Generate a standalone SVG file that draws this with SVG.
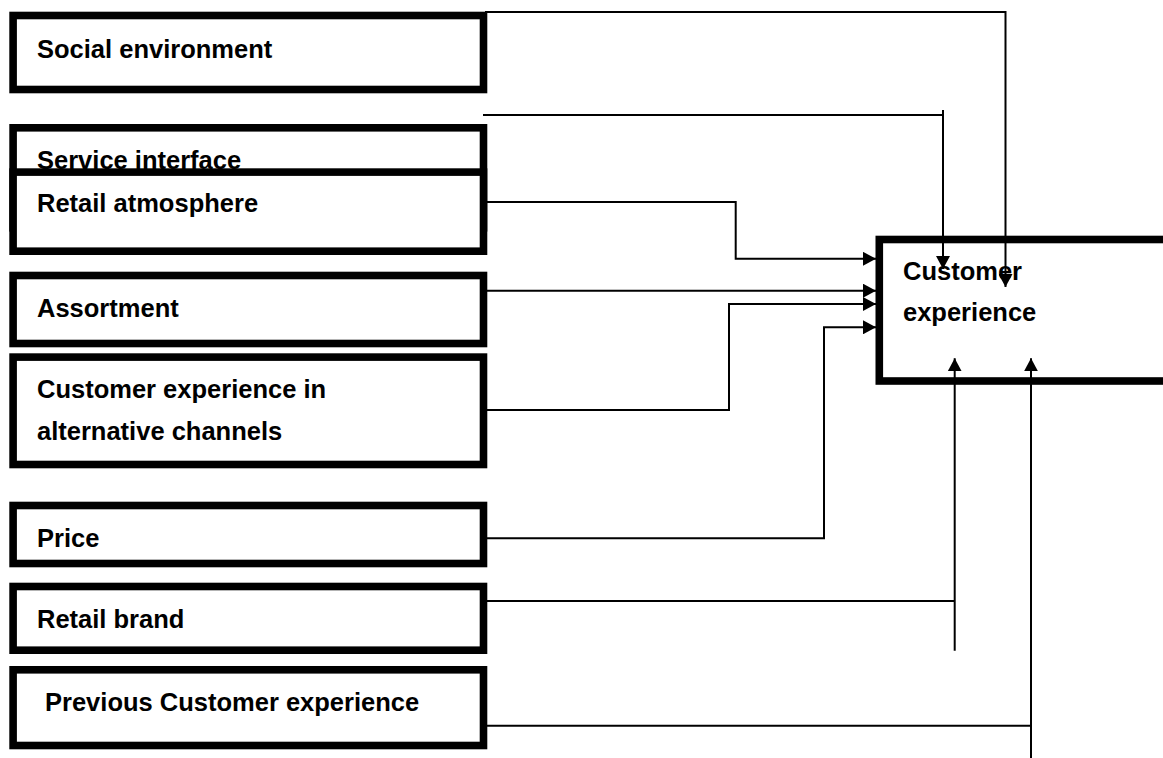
<svg xmlns="http://www.w3.org/2000/svg" width="1163" height="758" viewBox="0 0 1163 758">
<style>
.box{fill:#fff;stroke:#000;stroke-width:7.6}
.lbl{font-family:"Liberation Sans",Arial,sans-serif;font-weight:bold;font-size:25.5px;fill:#000}
.con{fill:none;stroke:#000;stroke-width:2}
.arr{marker-end:url(#ah)}
</style>
<defs>
<marker id="ah" markerUnits="userSpaceOnUse" markerWidth="14" markerHeight="14" refX="13" refY="7" orient="auto">
<path d="M0,0 L13,7 L0,14 z" fill="#000"/>
</marker>
</defs>
<rect width="1163" height="758" fill="#fff"/>
<g id="social">
<rect class="box" x="13.1" y="15.5" width="470.4" height="74"/>
<text class="lbl" x="37" y="57.5">Social environment</text>
</g>
<g id="service">
<rect class="box" x="13.1" y="127.8" width="470.4" height="100"/>
<text class="lbl" x="37" y="169">Service interface</text>
</g>
<g id="atmosphere">
<rect class="box" x="13.1" y="172.1" width="470.4" height="79.1"/>
<text class="lbl" x="37" y="211.7">Retail atmosphere</text>
</g>
<g id="assortment">
<rect class="box" x="13.1" y="275.5" width="470.4" height="68"/>
<text class="lbl" x="37" y="316.7">Assortment</text>
</g>
<g id="alternative">
<rect class="box" x="13.1" y="357.1" width="470.4" height="107.4"/>
<text class="lbl" x="37" y="398.3">Customer experience in</text>
<text class="lbl" x="37" y="440">alternative channels</text>
</g>
<g id="price">
<rect class="box" x="13.1" y="505.5" width="470.4" height="58"/>
<text class="lbl" x="37" y="546.7">Price</text>
</g>
<g id="brand">
<rect class="box" x="13.1" y="586.5" width="470.4" height="63.7"/>
<text class="lbl" x="37" y="627.7">Retail brand</text>
</g>
<g id="previous">
<rect class="box" x="13.1" y="669.8" width="470.4" height="75.7"/>
<text class="lbl" x="45" y="710.7">Previous Customer experience</text>
</g>
<g id="customer-experience">
<rect class="box" x="879.3" y="239.5" width="320" height="141.5"/>
<text class="lbl" x="903" y="279.5">Customer</text>
<text class="lbl" x="903" y="321">experience</text>
</g>
<g id="connectors">
<path class="con arr" d="M485,12 H1005.5 V287"/>
<path class="con" d="M483,115 H943"/>
<path class="con arr" d="M943,110 V269"/>
<path class="con arr" d="M487,202 H735.7 V258.8 H876"/>
<path class="con arr" d="M487,290.7 H876"/>
<path class="con arr" d="M487,410 H729 V304 H876"/>
<path class="con arr" d="M487,538.3 H824 V327.3 H876"/>
<path class="con" d="M487,601 H954.7"/>
<path class="con arr" d="M954.7,650.7 V358.3"/>
<path class="con" d="M487,725.7 H1031"/>
<path class="con arr" d="M1031,758 V358.3"/>
</g>
</svg>
